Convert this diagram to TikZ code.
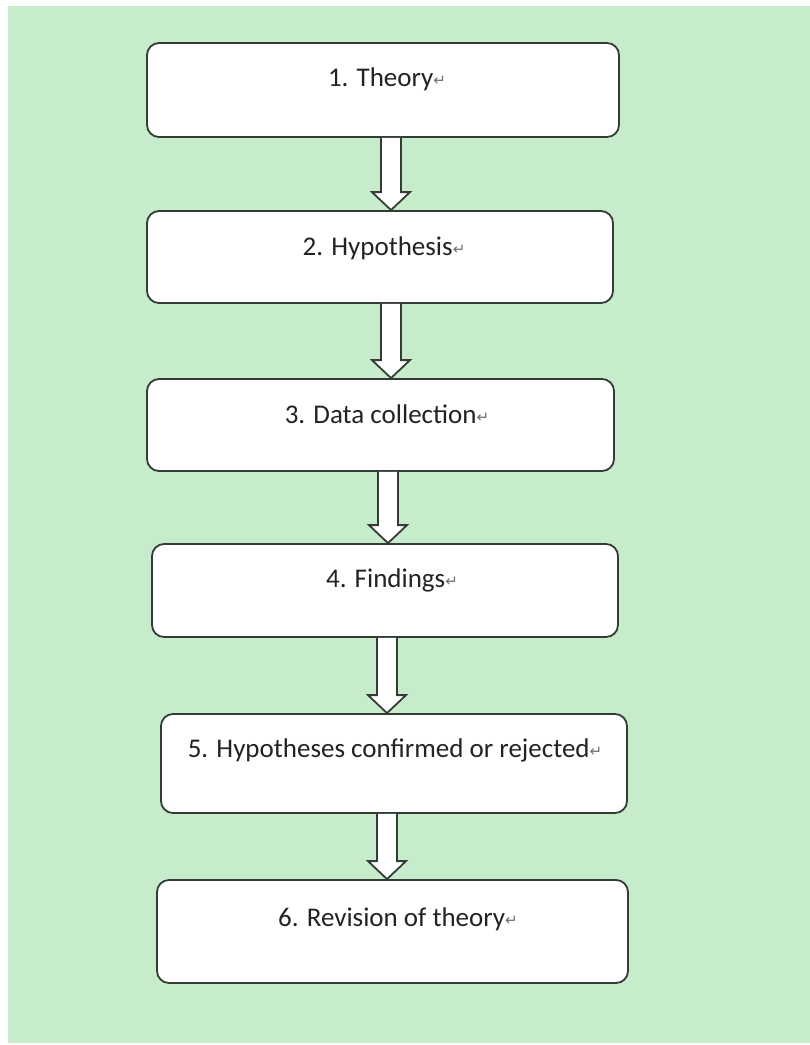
\documentclass[tikz,border=0pt]{standalone}
\usepackage{fontspec}
\setmainfont{Carlito}
\newfontfamily\symfont{DejaVu Sans}
\usetikzlibrary{calc}
\definecolor{bggreen}{RGB}{199,236,204}
\definecolor{edgecol}{RGB}{52,60,54}
\definecolor{txtcol}{RGB}{35,35,35}
\definecolor{markcol}{RGB}{110,110,110}
\newcommand{\pmark}{\raisebox{1pt}{\symfont\fontsize{15}{15}\selectfont\color{markcol}↵}}
\newcommand{\flowarrow}[3]{%
  \draw[barrow] let \p1=(#1.south), \p2=(#2.north) in
    (#3pt-10pt,\y1) -- (#3pt-10pt,\y2+18pt) -- (#3pt-19pt,\y2+18pt) -- (#3pt,\y2)
    -- (#3pt+19pt,\y2+18pt) -- (#3pt+10pt,\y2+18pt) -- (#3pt+10pt,\y1);}
\begin{document}
\begin{tikzpicture}[x=1pt,y=1pt,
  stepbox/.style={draw=edgecol, line width=1.8pt, fill=white, rounded corners=12pt, inner sep=0pt},
  lbl/.style={anchor=base, text=txtcol, font=\fontsize{27}{30}\selectfont, inner sep=0pt},
  barrow/.style={draw=edgecol, line width=1.8pt, fill=white, line join=miter}]
\useasboundingbox (0,0) rectangle (810,-1045);
\fill[white] (0,0) rectangle (810,-1045);
\fill[bggreen] (8,-6) rectangle (810,-1043);

\node[stepbox, minimum width=472pt, minimum height=94pt] (b1) at (383,-90) {};
\node[stepbox, minimum width=466pt, minimum height=92pt] (b2) at (380,-257) {};
\node[stepbox, minimum width=467pt, minimum height=92pt] (b3) at (380.5,-425) {};
\node[stepbox, minimum width=466pt, minimum height=93pt] (b4) at (385,-590.5) {};
\node[stepbox, minimum width=466pt, minimum height=99pt] (b5) at (394,-763.5) {};
\node[stepbox, minimum width=471pt, minimum height=103pt] (b6) at (392.5,-931.5) {};

\node[lbl] (t1) at (387,-86) {1. Theory\pmark};
\node[lbl] (t2) at (384,-255) {2. Hypothesis\pmark};
\node[lbl] (t3) at (387,-423) {3. Data collection\pmark};
\node[lbl] (t4) at (392,-587) {4. Findings\pmark};
\node[lbl] (t5) at (395,-757) {5. Hypotheses confirmed or rejected\pmark};
\node[lbl] (t6) at (398,-926) {6. Revision of theory\pmark};

\flowarrow{b1}{b2}{391}
\flowarrow{b2}{b3}{391}
\flowarrow{b3}{b4}{388}
\flowarrow{b4}{b5}{387}
\flowarrow{b5}{b6}{387}
\end{tikzpicture}
\end{document}
